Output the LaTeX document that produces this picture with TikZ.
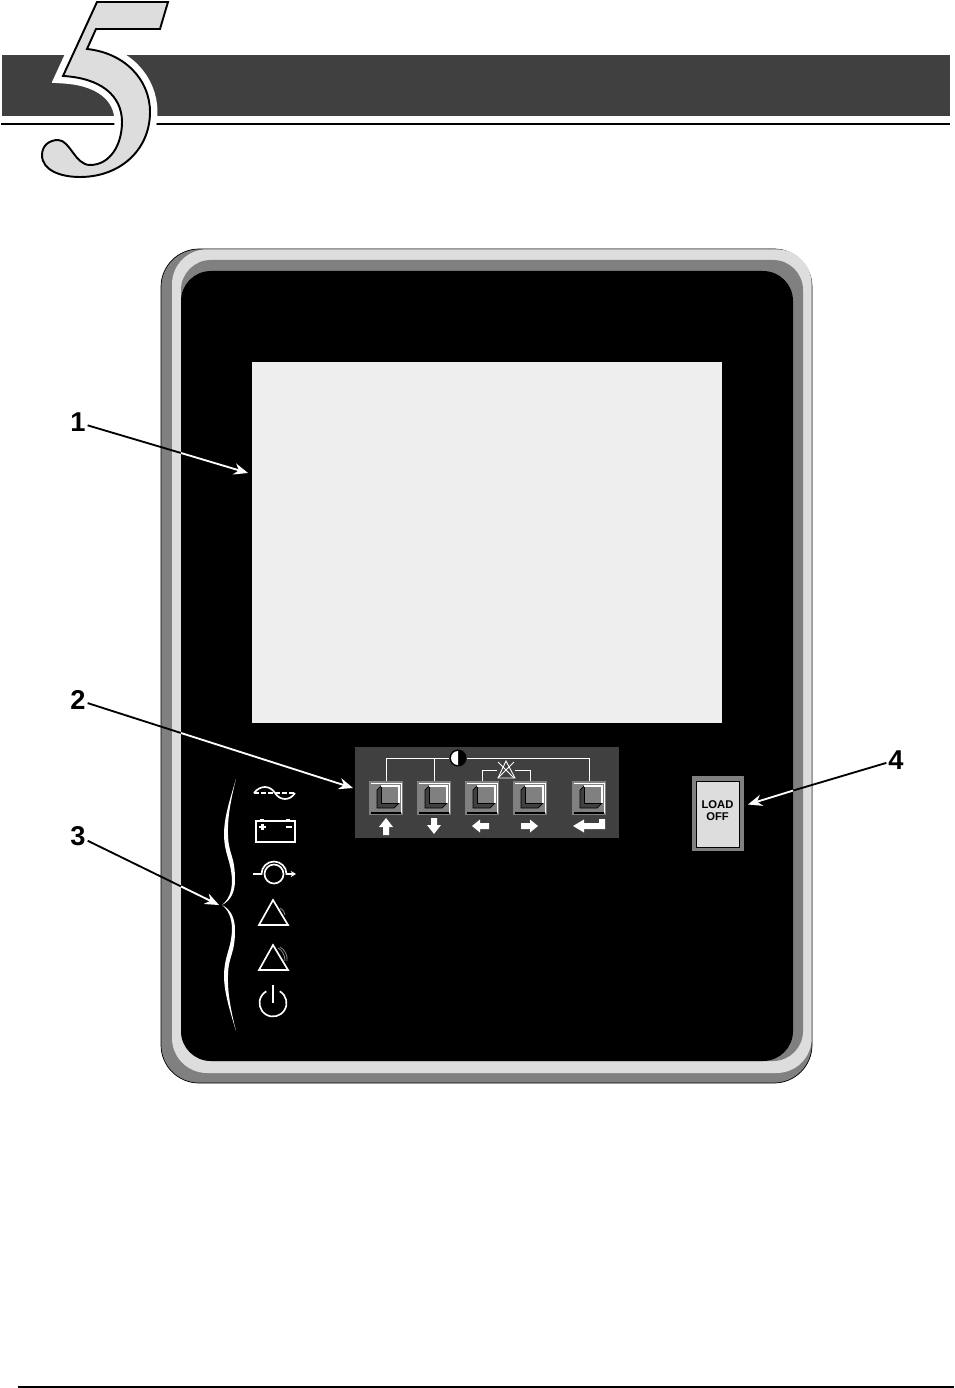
\documentclass[tikz,border=0pt]{standalone}
\usepackage{fontspec}
\setmainfont{Liberation Sans}
\usetikzlibrary{arrows.meta}
\definecolor{bandgray}{HTML}{404040}
\definecolor{midgray}{HTML}{808080}
\definecolor{lightgray}{HTML}{DDDDDD}
\definecolor{screengray}{HTML}{EEEEEE}
\tikzset{
  % Callout numbers
  calloutnum/.style={
    font=\fontsize{15.5pt}{17pt}\selectfont\bfseries, inner sep=1pt
  },
  % Callout lines, black over the paper, white over the panel
  leaderout/.style={
    -, black, line width=1.05pt
  },
  leaderin/.style={
    -{Stealth[length=8pt, width=6.5pt]}, white, line width=1.05pt
  },
  % Keypad
  keyframe/.style={
    draw=midgray, fill=midgray, rectangle, inner sep=0pt,
    minimum size=0.66cm
  },
  keywire/.style={
    -, white, line width=0.55pt
  },
  keyglyph/.style={
    fill=white, draw=none
  },
  % Status icons
  iconline/.style={
    white, line width=0.95pt
  },
  iconthin/.style={
    midgray, line width=0.5pt
  },
}
\newcommand{\panelkey}[2]{%
  \begin{scope}[shift={(#2)}]
    \node[keyframe] (#1) at (0,0) {};
    \draw[black, line width=0.6pt] (-15,15) -- (15,15);                   % frame shadow
    \draw[white, line width=0.5pt] (-15,-15) -- (15,-15) -- (15,15);      % frame light
    \draw[black, fill=bandgray, line width=0.4pt] (-9,-8) -- (-5,-12) -- (13,-12)
      -- (13,5) -- (8,10) -- (-9,10) -- cycle;                            % bevel
    \fill[midgray] (-5,-12) rectangle (13,5);                             % face
    \draw[black, line width=0.4pt] (-5,-12) -- (-5,5) -- (13,5);
    \draw[white, line width=1pt] (-5,-12) -- (13,-12) -- (13,5);
  \end{scope}
}

\begin{document}
\begin{tikzpicture}[x=0.02cm, y=-0.02cm]

  \useasboundingbox (0,0) rectangle (954,1388);
  \fill[white] (0,0) rectangle (954,1388);

  %% -- Page header --
  \fill[bandgray] (2,55) rectangle (950,116);
  \draw[black, line width=1.7pt] (1,124) -- (950,124);
  \draw[white, line width=8.5pt, line join=miter, miter limit=3]
    (97,2) -- (168,2) -- (160,29) -- (96,29) -- (87,49)
    .. controls (125,53) and (150,80) .. (150,112)
    .. controls (150,150) and (120,177) .. (80,177)
    .. controls (60,177) and (42,170) .. (42,155)
    .. controls (42,145) and (50,140) .. (58,140)
    .. controls (70,140) and (75,165) .. (90,165)
    .. controls (110,165) and (122,145) .. (122,122)
    .. controls (122,95) and (100,78) .. (63,76) -- cycle;
  \draw[black, fill=lightgray, line width=1.1pt, line join=miter]
    (97,2) -- (168,2) -- (160,29) -- (96,29) -- (87,49)
    .. controls (125,53) and (150,80) .. (150,112)
    .. controls (150,150) and (120,177) .. (80,177)
    .. controls (60,177) and (42,170) .. (42,155)
    .. controls (42,145) and (50,140) .. (58,140)
    .. controls (70,140) and (75,165) .. (90,165)
    .. controls (110,165) and (122,145) .. (122,122)
    .. controls (122,95) and (100,78) .. (63,76) -- cycle;

  %% -- Panel body --
  \draw[black, fill=midgray, line width=0.4pt, rounded corners=0.76cm] (161,249) rectangle (812,1083);
  \fill[lightgray, rounded corners=0.7cm] (172,249.3) rectangle (811.7,1073);
  \fill[midgray, rounded corners=0.6cm] (181,260) rectangle (803,1061);
  \fill[black, rounded corners=0.6cm] (181,271) rectangle (793,1061);

  %% -- Screen and keypad plate --
  \fill[screengray] (252,362) rectangle (722,723);
  \fill[bandgray] (355,747) rectangle (619,838);

  %% -- Keys --
  \panelkey{keyup}{386,798}
  \panelkey{keydown}{434,798}
  \panelkey{keyleft}{482,798}
  \panelkey{keyright}{530,798}
  \panelkey{keyenter}{589,798}

  %% -- Key wiring --
  \node[circle, fill=black, inner sep=0pt, minimum size=0.34cm] (contrast) at (458,758) {};
  \node[fill=bandgray, inner sep=0pt, minimum size=0.34cm] (mute) at (506,770) {};
  \draw[keywire] (contrast) -| (keyup);
  \draw[keywire] (contrast) -| (keydown);
  \draw[keywire] (contrast) -| (keyenter);
  \draw[keywire] (mute) -| (keyleft);
  \draw[keywire] (mute) -| (keyright);
  \fill[white] (458,751) arc[start angle=270, end angle=90, radius=7] -- cycle;   % half disc
  \draw[white, line width=0.5pt] (506,761) -- (498,778) -- (515,778) -- cycle;    % bell
  \draw[white, line width=0.5pt] (498,762) -- (514,778) (514,762) -- (498,778);   % cross

  %% -- Key arrows --
  \fill[keyglyph] (386,818) -- (393,827) -- (389,827) -- (389,835) -- (383,835) -- (383,827) -- (379,827) -- cycle;
  \fill[keyglyph] (434,834) -- (441,825) -- (437,825) -- (437,818) -- (431,818) -- (431,825) -- (427,825) -- cycle;
  \fill[keyglyph] (472,826) -- (480,819.5) -- (480,823) -- (489,823) -- (489,829) -- (480,829) -- (480,832.5) -- cycle;
  \fill[keyglyph] (538,826) -- (530,819.5) -- (530,823) -- (521,823) -- (521,829) -- (530,829) -- (530,832.5) -- cycle;
  \fill[keyglyph] (573,826) -- (584,819.5) -- (584,823) -- (599,823) -- (599,819) -- (605,819) -- (605,829)
    -- (584,829) -- (584,832.5) -- cycle;

  %% -- Status icons --
  % Mains
  \draw[iconline] (254,793) .. controls (260,785) and (270,785) .. (275,793)
    .. controls (280,801) and (290,801) .. (295,793);
  \draw[white, line width=0.7pt, dash pattern=on 3pt off 1pt] (254,793) -- (295,793);
  % Battery
  \draw[iconline] (256,821) rectangle (295,842);
  \draw[iconline] (260,819.5) -- (264,819.5) (286,819.5) -- (290,819.5);
  \draw[iconline, line width=1.5pt] (259,827) -- (266,827) (262.5,824) -- (262.5,830) (286,827) -- (292,827);
  % Bypass
  \draw[iconline] (274,874) circle[radius=9.5];
  \draw[iconline, -{Stealth[length=3pt, width=3.5pt]}] (253,874) -- (261.5,874) arc[start angle=180, end angle=360, radius=12.5] -- (296,874);
  % Warning
  \draw[iconline, line join=miter] (273,900) -- (259,925) -- (288,925) -- cycle;
  \draw[iconthin] (280,908) .. controls (283,910) and (285,912) .. (285,915);
  % Alarm
  \draw[iconline, line join=miter] (273,945) -- (259,970) -- (288,970) -- cycle;
  \draw[iconthin] (278,948) .. controls (282,950) and (285,955) .. (285,961);
  \draw[iconthin] (280,947) .. controls (284,949) and (288,955) .. (287,961);
  % Power
  \draw[iconline] ([shift={(300:13.5)}]273,1003) arc[start angle=300, end angle=600, radius=13.5];
  \draw[iconline] (273,985) -- (273,1003);

  %% -- Brace --
  \fill[white] (236,779) .. controls (228,805) and (224,820) .. (224,835)
    .. controls (224.5,855) and (231,860) .. (232,880)
    .. controls (232,893) and (228,900) .. (222,905)
    .. controls (230,901) and (235,893) .. (235,880)
    .. controls (235,855) and (228.5,855) .. (228,835)
    .. controls (227.5,820) and (229.5,805) .. (236,779) -- cycle;
  \fill[white] (236,1031) .. controls (228,1005) and (224,990) .. (224,975)
    .. controls (224.5,955) and (231,950) .. (232,930)
    .. controls (232,917) and (228,910) .. (222,905)
    .. controls (230,909) and (235,917) .. (235,930)
    .. controls (235,955) and (228.5,955) .. (228,975)
    .. controls (227.5,990) and (229.5,1005) .. (236,1031) -- cycle;

  %% -- LOAD OFF button --
  \node[fill=midgray, inner sep=0pt, minimum width=1.04cm, minimum height=1.5cm] (loadframe) at (717.5,813.5) {};
  \node[draw=black, fill=lightgray, line width=0.4pt, inner sep=0pt,
        minimum width=0.86cm, minimum height=1.32cm] (loadface) at (717.5,814) {};
  \node[align=center, inner sep=0pt,
        font=\fontsize{6.4pt}{6.65pt}\selectfont\bfseries] (loadoff) at (717.5,810.5) {LOAD\\OFF};

  %% -- Callouts --
  \node[calloutnum] (num1) at (78,422.5) {1};
  \node[calloutnum] (num2) at (78,700) {2};
  \node[calloutnum] (num3) at (78,836) {3};
  \node[calloutnum] (num4) at (896,760) {4};

  \coordinate (edge1) at (181,453);
  \coordinate (edge2) at (181,733);
  \coordinate (edge3) at (181,886.4);
  \coordinate (edge4) at (793,790.6);
  \coordinate (tip1) at (248,473);
  \coordinate (tip2) at (353,788);
  \coordinate (tip3) at (219,905);
  \coordinate (tip4) at (748,804.5);

  \draw[leaderout] (num1) -- (edge1);
  \draw[leaderin] (edge1) -- (tip1);
  \draw[leaderout] (num2) -- (edge2);
  \draw[leaderin] (edge2) -- (tip2);
  \draw[leaderout] (num3) -- (edge3);
  \draw[leaderin] (edge3) -- (tip3);
  \draw[leaderout] (num4) -- (edge4);
  \draw[leaderin] (edge4) -- (tip4);

  %% -- Page footer --
  \draw[black, line width=0.8pt] (18,1387) -- (954,1387);

\end{tikzpicture}
\end{document}
